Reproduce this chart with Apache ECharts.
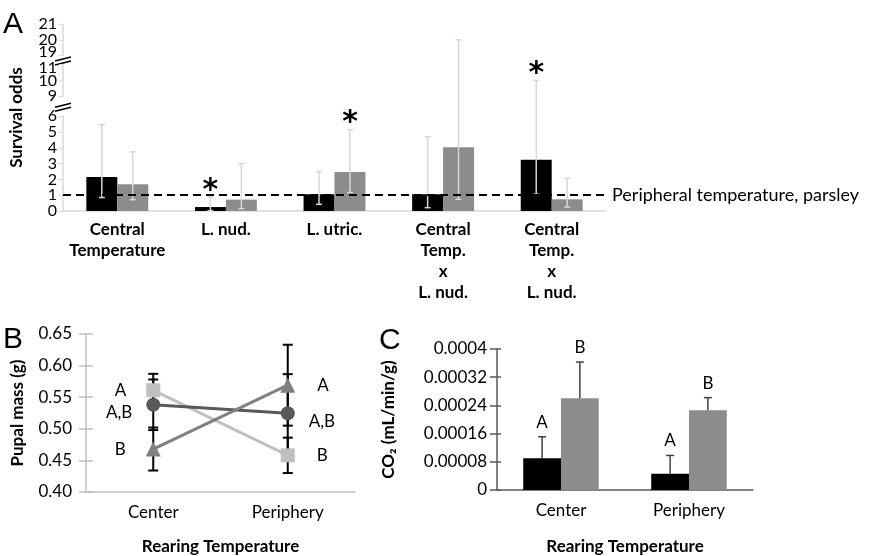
<!DOCTYPE html>
<html><head><meta charset="utf-8">
<script src="https://cdn.jsdelivr.net/npm/echarts@6/dist/echarts.min.js"></script>
<style>html,body{margin:0;padding:0;background:#fff}#c{width:870px;height:556px}</style>
</head><body><div id="c"></div><script>
// ---------- Panel A : survival odds ----------
const aCategories = ['Central\nTemperature', 'L. nud.', 'L. utric.', 'Central\nTemp.\nx\nL. nud.', 'Central\nTemp.\nx\nL. nud.'];
const aBlack = [2.15, 0.25, 1.06, 1.06, 3.24];
const aGray = [1.69, 0.72, 2.47, 4.03, 0.74];
const aBlackLow = [0.85, 0.02, 0.42, 0.21, 1.06];
const aBlackHigh = [5.47, 0.87, 2.50, 4.70, 10.0];
const aGrayLow = [0.72, 0.15, 1.17, 0.74, 0.25];
const aGrayHigh = [3.74, 3.00, 5.15, 20.0, 2.07];
const aBlackStars = ['', '*', '', '', '*'];
const aGrayStars = ['', '', '*', '', ''];
const aRefValue = 1;
const aRefLabel = 'Peripheral temperature, parsley';
const aYMin = 0, aYMax = 21, aYStep = 1;
const aBreaks = [[6, 9], [11, 19]];
// ---------- Panel B : pupal mass ----------
const bCategories = ['Center', 'Periphery'];
const bSquare = [0.561, 0.458];
const bSquareErr = [0.026, 0.028];
const bSquareLetters = ['A', 'B'];
const bCircle = [0.538, 0.5245];
const bCircleErr = [0.040, 0.062];
const bCircleLetters = ['A,B', 'A,B'];
const bTriangle = [0.468, 0.569];
const bTriangleErr = [0.034, 0.064];
const bTriangleLetters = ['B', 'A'];
const bYMin = 0.40, bYMax = 0.65, bYStep = 0.05;
// ---------- Panel C : CO2 ----------
const cCategories = ['Center', 'Periphery'];
const cBlack = [0.000090, 0.000046];
const cBlackErr = [0.000061, 0.000052];
const cBlackLetters = ['A', 'A'];
const cGray = [0.000260, 0.000226];
const cGrayErr = [0.000103, 0.000036];
const cGrayLetters = ['B', 'B'];
const cYMin = 0, cYMax = 0.0004, cYStep = 0.00008;

const FONT = 'Lato, "Open Sans", sans-serif';
const chart = echarts.init(document.getElementById('c'), null, {renderer: 'canvas'});

function errBars(xi, yi, lows, highs, marks, offFrac, color, lw, cap, z, showLowCap, markFont, markGap) {
  return {
    type: 'custom', xAxisIndex: xi, yAxisIndex: yi, z: z,
    data: lows.map((l, i) => [i, l, highs[i]]),
    renderItem: function (params, api) {
      const i = api.value(0);
      const band = api.size([1, 0])[0];
      const x = api.coord([i, 0])[0] + offFrac * band;
      const yl = api.coord([i, api.value(1)])[1];
      const yh = api.coord([i, api.value(2)])[1];
      const st = {stroke: color, lineWidth: lw};
      const ch = [
        {type: 'line', shape: {x1: x, y1: yl, x2: x, y2: yh}, style: st},
        {type: 'line', shape: {x1: x - cap, y1: yh, x2: x + cap, y2: yh}, style: st}
      ];
      if (showLowCap) ch.push({type: 'line', shape: {x1: x - cap, y1: yl, x2: x + cap, y2: yl}, style: st});
      const m = marks ? marks[params.dataIndex] : '';
      if (m) ch.push({type: 'text', style: {text: m, x: x, y: yh - markGap, align: 'center', verticalAlign: 'bottom', font: markFont, fill: '#000'}});
      return {type: 'group', children: ch};
    }
  };
}

function innerTicks(gi, min, max, step, color, len) {
  return {gridIndex: gi, type: 'value', position: 'left', offset: 0, min: min, max: max, interval: step,
    axisLine: {show: true, lineStyle: {color: color, width: 0, opacity: 0}},
    axisLabel: {show: false}, splitLine: {show: false},
    axisTick: {show: true, inside: true, length: len, lineStyle: {color: color, width: 1.5, opacity: 1}}};
}

const option = {
  backgroundColor: '#fff',
  animation: false,
  textStyle: {fontFamily: FONT},
  grid: [
    {left: 63, right: 264, top: 24, bottom: 345},
    {left: 86, right: 515, top: 334, bottom: 62},
    {left: 497, right: 117, top: 349, bottom: 57}
  ],
  xAxis: [
    {gridIndex: 0, type: 'category', data: aCategories,
     axisLine: {lineStyle: {color: '#d9d9d9', width: 1.5}}, axisTick: {show: false},
     axisLabel: {color: '#000', fontSize: 17, fontWeight: 'bold', lineHeight: 21, margin: 8, interval: 0, fontFamily: FONT}},
    {gridIndex: 1, type: 'category', data: bCategories,
     axisLine: {lineStyle: {color: '#bfbfbf', width: 1.5}}, axisTick: {show: false},
     axisLabel: {color: '#000', fontSize: 17, margin: 12, fontFamily: FONT},
     name: 'Rearing Temperature', nameLocation: 'middle', nameGap: 46,
     nameTextStyle: {color: '#000', fontSize: 17, fontWeight: 'bold', fontFamily: FONT}},
    {gridIndex: 2, type: 'category', data: cCategories,
     axisLine: {lineStyle: {color: '#595959', width: 1.5}}, axisTick: {show: false},
     axisLabel: {color: '#000', fontSize: 17, margin: 12, fontFamily: FONT},
     name: 'Rearing Temperature', nameLocation: 'middle', nameGap: 48,
     nameTextStyle: {color: '#000', fontSize: 17, fontWeight: 'bold', fontFamily: FONT}}
  ],
  yAxis: [
    {gridIndex: 0, type: 'value', min: aYMin, max: aYMax, interval: aYStep,
     breaks: [{start: aBreaks[0][0], end: aBreaks[0][1], gap: '10.7%'}, {start: aBreaks[1][0], end: aBreaks[1][1], gap: '4.8%'}],
     breakArea: {show: false},
     axisLine: {show: true, lineStyle: {color: '#d9d9d9', width: 1.5}},
     axisTick: {show: true, length: 4, lineStyle: {color: '#d9d9d9'}},
     splitLine: {show: false},
     axisLabel: {color: '#000', fontSize: 16, margin: 6, fontFamily: FONT, showMinLabel: true, showMaxLabel: true, hideOverlap: false},
     name: 'Survival odds', nameLocation: 'middle', nameGap: 38,
     nameTextStyle: {color: '#000', fontSize: 17, fontWeight: 'bold', fontFamily: FONT}},
    {gridIndex: 1, type: 'value', position: 'left', min: bYMin, max: bYMax, interval: bYStep,
     axisLine: {show: true, lineStyle: {color: '#bfbfbf', width: 1.5}},
     axisTick: {show: true, length: 7, lineStyle: {color: '#bfbfbf', width: 1.5}},
     splitLine: {show: false},
     axisLabel: {color: '#000', fontSize: 17, margin: 14, fontFamily: FONT, formatter: v => v.toFixed(2)},
     name: 'Pupal mass (g)', nameLocation: 'middle', nameGap: 60,
     nameTextStyle: {color: '#000', fontSize: 17, fontWeight: 'bold', fontFamily: FONT}},
    {gridIndex: 2, type: 'value', position: 'left', min: cYMin, max: cYMax, interval: cYStep,
     axisLine: {show: true, lineStyle: {color: '#595959', width: 1.5}},
     axisTick: {show: true, length: 7, lineStyle: {color: '#595959', width: 1.5}},
     splitLine: {show: false},
     axisLabel: {color: '#000', fontSize: 17, margin: 10, fontFamily: FONT,
       formatter: v => v === 0 ? '0' : String(parseFloat(v.toPrecision(3)))},
     name: 'CO\u2082 (mL/min/g)', nameLocation: 'middle', nameGap: 100,
     nameTextStyle: {color: '#000', fontSize: 17, fontWeight: 'bold', fontFamily: FONT}},
    innerTicks(1, bYMin, bYMax, bYStep, '#bfbfbf', 7),
    innerTicks(2, cYMin, cYMax, cYStep, '#595959', 4)
  ],
  series: [
    // Panel A
    {type: 'bar', xAxisIndex: 0, yAxisIndex: 0, data: aBlack, barGap: '0%', barCategoryGap: '43%',
     itemStyle: {color: '#000'}, z: 2,
     markLine: {silent: true, symbol: 'none', z: 5,
       lineStyle: {color: '#000', type: [8, 5], width: 2},
       label: {show: true, position: 'end', distance: 6, formatter: aRefLabel, color: '#000', fontSize: 18, fontFamily: FONT},
       data: [{yAxis: aRefValue}]}},
    {type: 'bar', xAxisIndex: 0, yAxisIndex: 0, data: aGray, barGap: '0%', barCategoryGap: '43%',
     itemStyle: {color: '#8c8c8c'}, z: 2},
    errBars(0, 0, aBlackLow, aBlackHigh, aBlackStars, -0.1425, '#d6d6d6', 1.5, 3, 4, true, 'bold 30px "DejaVu Sans", sans-serif', -9),
    errBars(0, 0, aGrayLow, aGrayHigh, aGrayStars, 0.1425, '#d6d6d6', 1.5, 3, 4, true, 'bold 30px "DejaVu Sans", sans-serif', -9),
    // Panel B
    errBars(1, 1, bSquare.map((v, i) => v - bSquareErr[i]), bSquare.map((v, i) => v + bSquareErr[i]), null, 0, '#000', 2, 5, 1, true),
    errBars(1, 1, bCircle.map((v, i) => v - bCircleErr[i]), bCircle.map((v, i) => v + bCircleErr[i]), null, 0, '#000', 2, 5, 1, true),
    errBars(1, 1, bTriangle.map((v, i) => v - bTriangleErr[i]), bTriangle.map((v, i) => v + bTriangleErr[i]), null, 0, '#000', 2, 5, 1, true),
    {type: 'line', xAxisIndex: 1, yAxisIndex: 1, z: 3, symbol: 'rect', symbolSize: 14,
     lineStyle: {color: '#bfbfbf', width: 3}, itemStyle: {color: '#bfbfbf'},
     data: bSquare.map((v, i) => ({value: v, label: {show: true, position: i === 0 ? 'left' : 'right', distance: i === 0 ? 20 : 22, formatter: bSquareLetters[i], color: '#000', fontSize: 17, fontFamily: FONT}}))},
    {type: 'line', xAxisIndex: 1, yAxisIndex: 1, z: 3, symbol: 'circle', symbolSize: 14,
     lineStyle: {color: '#595959', width: 3}, itemStyle: {color: '#595959'},
     data: bCircle.map((v, i) => ({value: v, label: {show: true, position: i === 0 ? 'left' : 'right', distance: 14, offset: [0, 8], formatter: bCircleLetters[i], color: '#000', fontSize: 17, fontFamily: FONT}}))},
    {type: 'line', xAxisIndex: 1, yAxisIndex: 1, z: 3, symbol: 'triangle', symbolSize: 15,
     lineStyle: {color: '#808080', width: 3}, itemStyle: {color: '#808080'},
     data: bTriangle.map((v, i) => ({value: v, label: {show: true, position: i === 0 ? 'left' : 'right', distance: i === 0 ? 20 : 22, formatter: bTriangleLetters[i], color: '#000', fontSize: 17, fontFamily: FONT}}))},
    // Panel C
    {type: 'bar', xAxisIndex: 2, yAxisIndex: 2, data: cBlack, barGap: '0%', barCategoryGap: '41%',
     itemStyle: {color: '#000'}, z: 2},
    {type: 'bar', xAxisIndex: 2, yAxisIndex: 2, data: cGray, barGap: '0%', barCategoryGap: '41%',
     itemStyle: {color: '#8c8c8c'}, z: 2},
    errBars(2, 2, cBlack, cBlack.map((v, i) => v + cBlackErr[i]), cBlackLetters, -0.1475, '#404040', 1.5, 4, 3, false, '17px ' + FONT, 6),
    errBars(2, 2, cGray, cGray.map((v, i) => v + cGrayErr[i]), cGrayLetters, 0.1475, '#404040', 1.5, 4, 3, false, '17px ' + FONT, 6)
  ]
};
chart.setOption(option);

// panel letters and axis-break marks
function breakMark(lo, hi) {
  const gx = chart.getModel().getComponent('grid', 0).coordinateSystem.getRect().x;
  const y = (chart.convertToPixel({yAxisIndex: 0}, lo) + chart.convertToPixel({yAxisIndex: 0}, hi)) / 2;
  return [
    {type: 'line', shape: {x1: gx - 8, y1: y + 1, x2: gx + 8, y2: y - 3}, style: {stroke: '#000', lineWidth: 1.5}},
    {type: 'line', shape: {x1: gx - 8, y1: y + 5, x2: gx + 8, y2: y + 1}, style: {stroke: '#000', lineWidth: 1.5}}
  ];
}
const LET = '30px "Liberation Sans", Arial, sans-serif';
chart.setOption({graphic: [
  {type: 'text', left: 3, top: 10, style: {text: 'A', font: LET, fill: '#000'}},
  {type: 'text', left: 3, top: 325, style: {text: 'B', font: LET, fill: '#000'}},
  {type: 'text', left: 379, top: 326, style: {text: 'C', font: LET, fill: '#000'}},
  ...breakMark(aBreaks[0][0], aBreaks[0][1]),
  ...breakMark(aBreaks[1][0], aBreaks[1][1])
]});
</script></body></html>
